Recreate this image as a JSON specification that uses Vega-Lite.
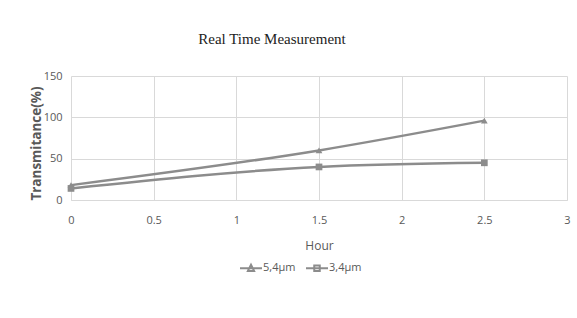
{
  "$schema": "https://vega.github.io/schema/vega-lite/v6.json",
  "width": 496,
  "height": 124,
  "autosize": {"type": "none"},
  "padding": {"left": 71, "top": 76, "right": 10, "bottom": 118},
  "background": "white",
  "title": {
    "text": "Real Time Measurement",
    "font": "Liberation Serif",
    "fontSize": 15,
    "fontWeight": "normal",
    "color": "#222222",
    "anchor": "middle",
    "dx": -47,
    "offset": 23
  },
  "data": {
    "values": [
      {"series": "5,4µm", "hour": 0, "value": 18},
      {"series": "5,4µm", "hour": 1.5, "value": 60},
      {"series": "5,4µm", "hour": 2.5, "value": 96},
      {"series": "3,4µm", "hour": 0, "value": 14},
      {"series": "3,4µm", "hour": 1.5, "value": 40},
      {"series": "3,4µm", "hour": 2.5, "value": 45}
    ]
  },
  "encoding": {
    "x": {
      "field": "hour", "type": "quantitative",
      "scale": {"domain": [0, 3], "nice": false},
      "axis": {
        "title": "Hour", "values": [0, 0.5, 1, 1.5, 2, 2.5, 3], "format": "~g",
        "labelFont": "Open Sans", "labelFontSize": 11, "labelColor": "#595959",
        "titleFont": "Open Sans", "titleFontSize": 12, "titleFontWeight": "normal", "titleColor": "#595959",
        "titlePadding": 15, "labelPadding": 14,
        "ticks": false, "domainColor": "#d9d9d9", "gridColor": "#d9d9d9", "labelFlush": false
      }
    },
    "y": {
      "field": "value", "type": "quantitative",
      "scale": {"domain": [0, 150], "nice": false},
      "axis": {
        "title": "Transmitance(%)", "values": [0, 50, 100, 150],
        "labelFont": "Open Sans", "labelFontSize": 11, "labelColor": "#595959",
        "titleFont": "Open Sans", "titleFontSize": 13.5, "titleFontWeight": "bold", "titleColor": "#595959",
        "titlePadding": 0, "labelPadding": 9, "titleY": 67,
        "ticks": false, "domain": false, "gridColor": "#d9d9d9"
      }
    }
  },
  "layer": [
    {
      "mark": {"type": "line", "interpolate": "monotone", "strokeWidth": 2.5, "color": "#8c8c8c"},
      "encoding": {"detail": {"field": "series"}}
    },
    {
      "mark": {"type": "point", "filled": true, "opacity": 1, "size": 45, "color": "#8c8c8c"},
      "encoding": {
        "shape": {
          "field": "series", "type": "nominal",
          "scale": {"domain": ["5,4µm", "3,4µm"], "range": ["triangle-up", "square"]},
          "legend": null
        }
      }
    },
    {
      "mark": {"type": "point", "filled": false, "opacity": 0, "strokeWidth": 2, "color": "#8c8c8c"},
      "encoding": {
        "shape": {
          "field": "series", "type": "nominal",
          "scale": {"domain": ["5,4µm", "3,4µm"], "range": ["M-1,0H1M-0.28,0.25L0,-0.3L0.28,0.25Z", "M-1,0H1M-0.25,-0.25H0.25V0.25H-0.25Z"]},
          "legend": {
            "title": null, "orient": "none", "direction": "horizontal",
            "legendX": 168, "legendY": 180,
            "symbolSize": 484, "symbolOpacity": 1,
            "symbolFillColor": "#8c8c8c", "symbolStrokeColor": "#8c8c8c", "symbolStrokeWidth": 2,
            "labelFont": "Open Sans", "labelFontSize": 11, "labelColor": "#595959",
            "labelOffset": 0, "columnPadding": 6
          }
        }
      }
    }
  ],
  "resolve": {"scale": {"shape": "independent"}, "legend": {"shape": "independent"}},
  "config": {"view": {"stroke": null}}
}
